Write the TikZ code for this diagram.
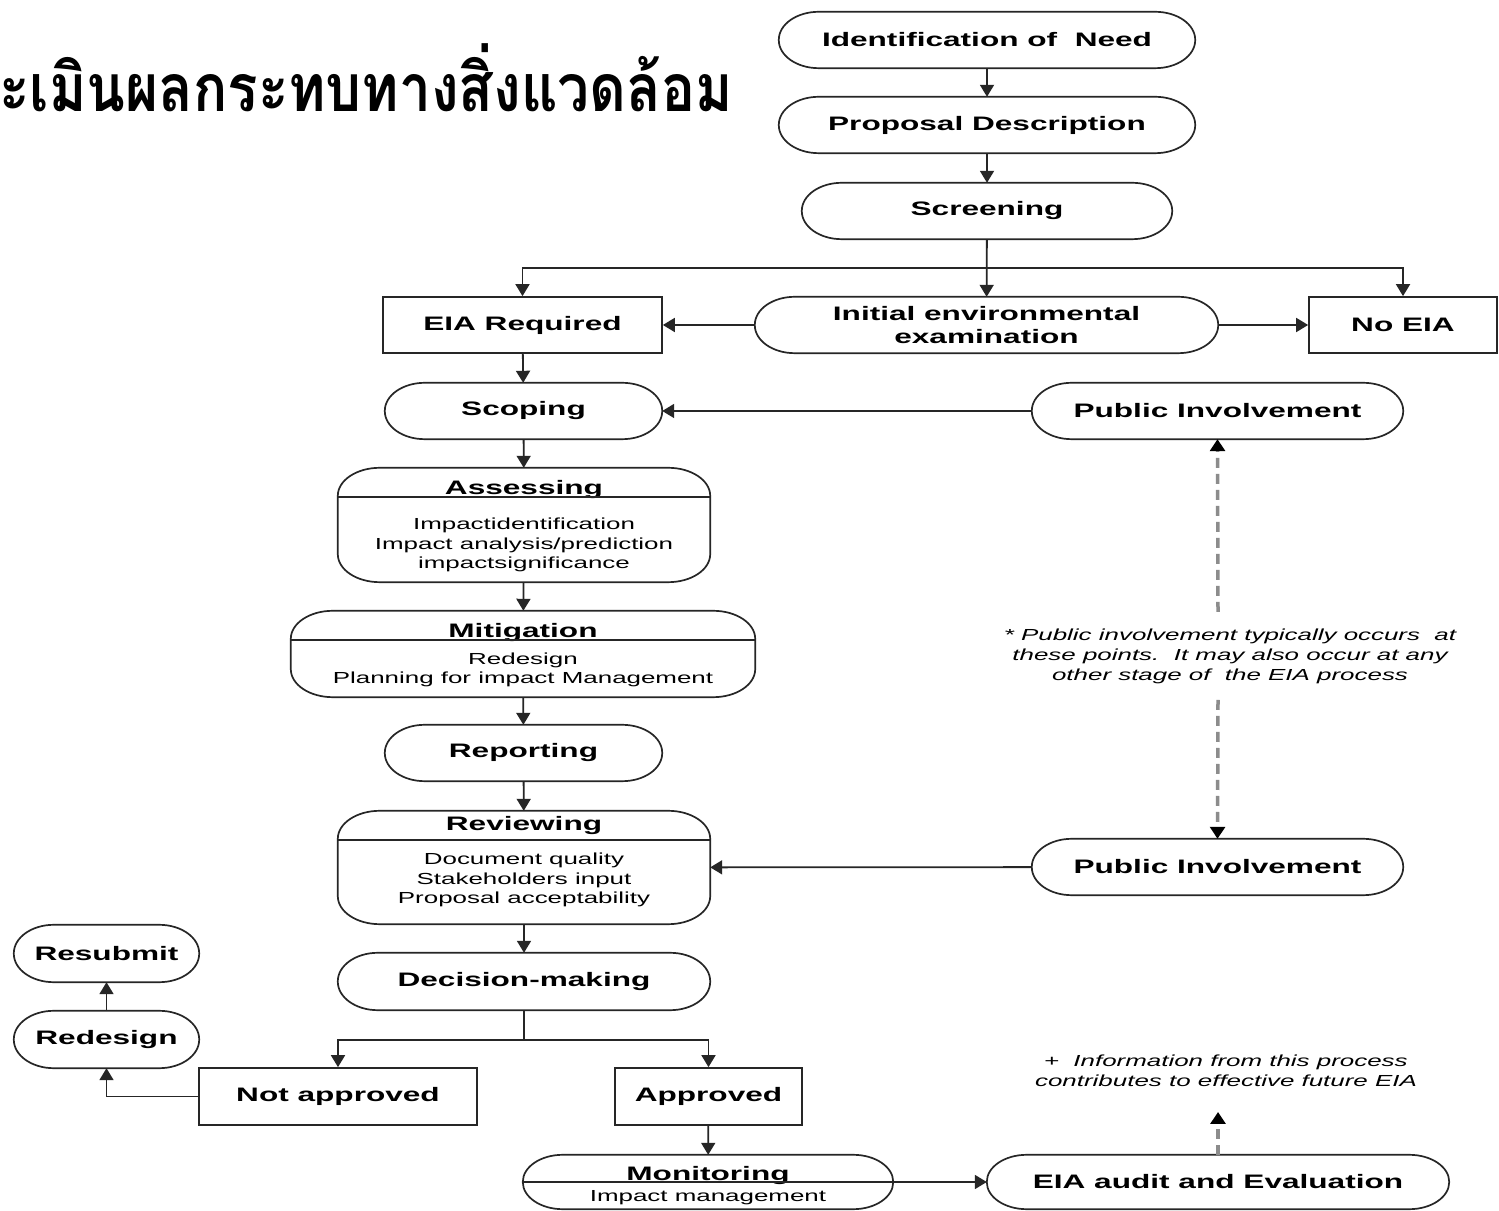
\documentclass[tikz,border=0pt]{standalone}
\usepackage{fontspec}
\setmainfont{Liberation Sans}
\newfontfamily\df[FakeStretch=1.62]{Liberation Sans}
\newfontfamily\thaifont[Script=Thai,FakeStretch=0.86]{Loma}
\usetikzlibrary{arrows.meta,calc}
\definecolor{lnc}{HTML}{262626}
\definecolor{dshc}{HTML}{8C8C8C}
\newcommand\erect[3]{%
  \path let \p1=(#1.north west), \p2=(#1.south east) in
  [draw=lnc, line width=1.7pt] (\x1+#2,\y1) -- (\x2-#2,\y1)
  arc[start angle=90,end angle=0,x radius=#2,y radius=#3] -- (\x2,\y2+#3)
  arc[start angle=0,end angle=-90,x radius=#2,y radius=#3] -- (\x1+#2,\y2)
  arc[start angle=270,end angle=180,x radius=#2,y radius=#3] -- (\x1,\y1-#3)
  arc[start angle=180,end angle=90,x radius=#2,y radius=#3] -- cycle;}
\tikzset{
  ln/.style={line width=1.8pt, draw=lnc},
  arr/.style={ln, -{Triangle[width=14pt,length=12pt]}},
  dsh/.style={line width=3.5pt, draw=dshc, dash pattern=on 10pt off 6pt},
  dsharr/.style={dsh, -{Triangle[width=15pt,length=12pt,color=black]}},
  nd/.style={inner sep=0pt, align=center, text=black,
    font=\df\bfseries\fontsize{19.5}{23}\selectfont},
  rbox/.style={nd, draw=lnc, line width=1.7pt},
  sm/.style={inner sep=0pt, align=center, text=black,
    font=\df\fontsize{16}{19.5}\selectfont},
  note/.style={inner sep=0pt, align=center, text=black,
    font=\df\itshape\fontsize{16}{20}\selectfont},
}
\begin{document}
\begin{tikzpicture}[x=1pt,y=1pt]
\useasboundingbox[fill=white] (0,0) rectangle (1499,1210);

% title
\node[anchor=base west, inner sep=0pt, font=\thaifont\bfseries\fontsize{66}{76}\selectfont] (title) at (-1,1098) {ะเมินผลกระทบทางสิ่งแวดล้อม};

% top chain
\node[nd, minimum width=416pt, minimum height=56pt] (idn) at (987,1170) {Identification of\ \ Need};
\node[nd, minimum width=416pt, minimum height=56pt] (prop) at (987,1085) {Proposal Description};
\node[nd, minimum width=370pt, minimum height=56pt] (scr) at (987,999) {Screening};
\node[rbox, minimum width=279pt, minimum height=56pt] (eia) at (522.5,885) {EIA Required};
\node[nd, minimum width=463pt, minimum height=56pt] (iee) at (986.5,885) {Initial environmental\\examination};
\node[rbox, minimum width=188pt, minimum height=56pt] (noeia) at (1403,885) {No EIA};
\node[nd, minimum width=277pt, minimum height=56pt] (scop) at (523.5,799) {Scoping};
\node[nd, minimum width=371pt, minimum height=56pt] (pub1) at (1217.5,799) {Public Involvement};

% assessing
\node[nd, minimum width=372pt, minimum height=114pt] (ass) at (524,685) {};
\node[nd, anchor=base] (assh) at (524,715) {Assessing};
\node[sm] (asst) at (524,665) {Impactidentification\\Impact analysis/prediction\\impactsignificance};

% mitigation
\node[nd, minimum width=464pt, minimum height=86pt] (mit) at (523,556) {};
\node[nd, anchor=base] (mith) at (523,572) {Mitigation};
\node[sm] (mitt) at (523,540) {Redesign\\Planning for impact Management};

\node[nd, minimum width=277pt, minimum height=56pt] (rep) at (523.5,457) {Reporting};

% reviewing
\node[nd, minimum width=372pt, minimum height=113pt] (rev) at (524,342.5) {};
\node[nd, anchor=base] (revh) at (524,379) {Reviewing};
\node[sm] (revt) at (524,330) {Document quality\\Stakeholders input\\Proposal acceptability};

\node[nd, minimum width=371pt, minimum height=56pt] (pub2) at (1217.5,343) {Public Involvement};
\node[nd, minimum width=372pt, minimum height=57pt] (dec) at (524,228.5) {Decision-making};
\node[rbox, minimum width=278pt, minimum height=57pt] (notap) at (338,113.5) {Not approved};
\node[rbox, minimum width=187pt, minimum height=57pt] (ap) at (708.5,113.5) {Approved};
\node[nd, minimum width=185pt, minimum height=57pt] (redes) at (106.5,170.5) {Redesign};
\node[nd, minimum width=185pt, minimum height=57pt] (resub) at (106.5,256.5) {Resubmit};

% monitoring
\node[nd, minimum width=370pt, minimum height=54pt] (mon) at (708,28) {};
\node[nd, anchor=base] (monh) at (708,30) {Monitoring};
\node[sm] (mont) at (708,12) {Impact management};
\node[nd, minimum width=462pt, minimum height=54pt] (audit) at (1218,28) {EIA audit and Evaluation};

% notes
\node[note] (n1) at (1230,554) {* Public involvement typically occurs\ \ at\\these points.\ \ It may also occur at any\\other stage of\ \ the EIA process};
\node[note] (n2) at (1226,139) {{\upshape+}\hspace{14pt}Information from this process\\contributes to effective future EIA};

% outlines
\erect{idn}{40pt}{28pt}
\erect{prop}{40pt}{28pt}
\erect{scr}{40pt}{28pt}
\erect{iee}{40pt}{28pt}
\erect{scop}{40pt}{28pt}
\erect{pub1}{40pt}{28pt}
\erect{ass}{42pt}{28pt}
\erect{mit}{42pt}{28pt}
\erect{rep}{40pt}{28pt}
\erect{rev}{42pt}{28pt}
\erect{pub2}{40pt}{28pt}
\erect{dec}{40pt}{28.5pt}
\erect{redes}{40pt}{28.5pt}
\erect{resub}{40pt}{28.5pt}
\erect{mon}{40pt}{27pt}
\erect{audit}{40pt}{27pt}

% dividers
\draw[ln] (ass.west |- 0,713) -- (ass.east |- 0,713);
\draw[ln] (mit.west |- 0,570) -- (mit.east |- 0,570);
\draw[ln] (rev.west |- 0,370) -- (rev.east |- 0,370);

% connectors
\coordinate (split1) at (987,942);
\coordinate (split2) at (524,170);
\coordinate (d1) at (1218,598);
\coordinate (d2) at (1218,510);
\coordinate (d3) at (1218,98);

\draw[arr] (idn) -- (prop);
\draw[arr] (prop) -- (scr);
\draw[arr] (scr) -- (iee);
\draw[arr] (split1) -| (eia.north);
\draw[arr] (split1) -| (noeia.north);
\draw[arr] (iee) -- (eia);
\draw[arr] (iee) -- (noeia);
\draw[arr] (eia) -- (scop);
\draw[arr] (pub1) -- (scop);
\draw[arr] (scop) -- (ass);
\draw[arr] (ass) -- (mit);
\draw[arr] (mit) -- (rep);
\draw[arr] (rep) -- (rev);
\draw[arr] (pub2) -- (rev);
\draw[arr] (rev) -- (dec);
\draw[ln] (dec) -- (split2);
\draw[arr] (split2) -| (notap.north);
\draw[arr] (split2) -| (ap.north);
\draw[arr] (notap.west) -| (redes.south);
\draw[arr] (redes) -- (resub);
\draw[arr] (ap) -- (mon);
\draw[arr] (mon.east) -- (audit.west);
\draw[ln] (mon.west) -- (mon.east);

\draw[dsharr] (d1) -- (pub1.south);
\draw[dsharr] (d2) -- (pub2.north);
\draw[dsharr] (audit.north) -- (d3);
\end{tikzpicture}
\end{document}
